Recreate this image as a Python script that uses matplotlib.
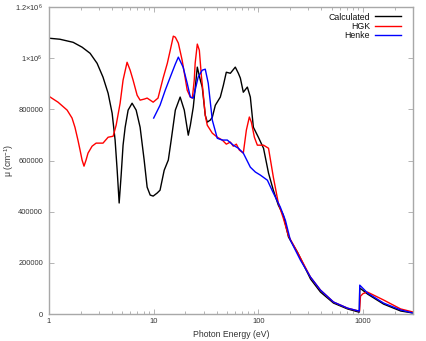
import matplotlib
matplotlib.use("Agg")
import matplotlib.pyplot as plt
from matplotlib.ticker import FixedLocator, LogLocator, NullFormatter

plt.rcParams['font.family'] = ['Liberation Sans', 'DejaVu Sans']
plt.rcParams['mathtext.fontset'] = 'custom'
plt.rcParams['mathtext.rm'] = 'Liberation Sans'
plt.rcParams['mathtext.it'] = 'Liberation Sans:italic'

# Calculated (eV, cm^-1)
calc_e = [1.0, 1.27, 1.70, 2.07, 2.47, 2.88, 3.28, 3.67, 4.01, 4.28, 4.48, 4.68, 4.89,
          5.10, 5.34, 5.70, 6.22, 6.80, 7.42, 8.11, 8.66, 9.26, 9.89, 10.8, 11.5, 12.6,
          13.8, 14.7, 16.1, 17.9, 19.6, 21.4, 22.4, 23.9, 26.1, 27.9, 29.1, 31.1, 32.5,
          34.7, 36.3, 38.8, 43.3, 46.3, 49.4, 54.0, 60.2, 64.4, 67.3, 71.8, 78.5, 83.8,
          89.6, 100, 112, 125, 139, 155, 173, 194, 236, 315, 392, 522, 711, 906, 922,
          930, 1105, 1570, 2285, 3000]
calc_mu = [1078e3, 1074e3, 1062e3, 1043e3, 1019e3, 980e3, 926e3, 863e3, 785e3, 680e3,
           562e3, 434e3, 543e3, 660e3, 730e3, 797e3, 824e3, 797e3, 730e3, 602e3, 496e3,
           465e3, 461e3, 473e3, 484e3, 562e3, 602e3, 680e3, 797e3, 848e3, 797e3, 699e3,
           738e3, 809e3, 965e3, 914e3, 887e3, 777e3, 750e3, 758e3, 769e3, 816e3, 848e3,
           894e3, 945e3, 941e3, 965e3, 941e3, 922e3, 867e3, 887e3, 848e3, 730e3, 691e3,
           648e3, 551e3, 484e3, 426e3, 387e3, 301e3, 242e3, 137e3, 86e3, 43e3, 20e3, 8e3,
           8e3, 102e3, 78e3, 39e3, 12e3, 4e3]

# HGK
hgk_e = [1.0, 1.22, 1.49, 1.66, 1.77, 1.89, 1.98, 2.07, 2.16, 2.26, 2.36, 2.58, 2.82,
         3.28, 3.67, 4.10, 4.38, 4.78, 5.10, 5.57, 5.96, 6.36, 6.95, 7.42, 8.11, 8.66,
         9.26, 9.89, 11.0, 12.3, 13.5, 14.4, 15.4, 16.1, 17.2, 18.7, 20.0, 20.9, 22.4,
         23.4, 24.4, 24.9, 26.1, 27.3, 28.5, 29.7, 31.1, 32.5, 36.3, 40.5, 45.2, 49.4,
         54.0, 57.6, 61.6, 65.8, 71.8, 76.8, 82.0, 85.7, 91.6, 97.8, 112, 125, 139, 155,
         173, 194, 236, 314, 391, 522, 711, 906, 925, 945, 1000, 1100, 1570, 2285, 3000]
hgk_mu = [851e3, 828e3, 797e3, 766e3, 730e3, 680e3, 641e3, 602e3, 578e3, 602e3, 629e3,
          656e3, 668e3, 668e3, 691e3, 695e3, 738e3, 824e3, 914e3, 984e3, 953e3, 914e3,
          855e3, 836e3, 840e3, 844e3, 836e3, 828e3, 844e3, 922e3, 980e3, 1031e3, 1086e3,
          1082e3, 1059e3, 992e3, 922e3, 875e3, 848e3, 844e3, 914e3, 980e3, 1055e3, 1031e3,
          934e3, 863e3, 777e3, 738e3, 707e3, 691e3, 680e3, 664e3, 672e3, 656e3, 664e3,
          641e3, 629e3, 719e3, 770e3, 750e3, 691e3, 660e3, 660e3, 648e3, 535e3, 434e3,
          375e3, 305e3, 242e3, 145e3, 94e3, 47e3, 23e3, 12e3, 12e3, 70e3, 80e3, 86e3,
          55e3, 20e3, 8e3]

# Henke
henke_e = [10.0, 11.5, 12.9, 14.4, 16.1, 17.2, 19.1, 20.9, 22.4, 23.9, 26.6, 29.1, 31.1,
           33.2, 36.3, 40.5, 45.2, 50.5, 57.6, 64.4, 71.8, 83.8, 93.6, 104.5, 122, 139,
           162, 181, 202, 252, 314, 391, 522, 711, 906, 920, 930, 1105, 1570, 2285, 3000]
henke_mu = [766e3, 816e3, 875e3, 926e3, 977e3, 1004e3, 965e3, 902e3, 848e3, 844e3, 926e3,
            953e3, 957e3, 902e3, 758e3, 687e3, 680e3, 680e3, 660e3, 648e3, 629e3, 574e3,
            555e3, 543e3, 523e3, 473e3, 418e3, 367e3, 289e3, 211e3, 145e3, 94e3, 47e3,
            23e3, 12e3, 12e3, 113e3, 82e3, 43e3, 16e3, 4e3]

y_ticks = [0, 200000, 400000, 600000, 800000, 1000000, 1200000]
y_labels = ['0', '200000', '400000', '600000', '800000',
            r'$\mathregular{1{\times}10^{6}}$', r'$\mathregular{1.2{\times}10^{6}}$']
x_ticks = [1, 10, 100, 1000]
x_labels = ['1', '10', '100', '1000']

fig = plt.figure(figsize=(4.26, 3.41), dpi=100)
ax = fig.add_axes([0.115, 0.079, 0.8545, 0.9005])

ax.plot(calc_e, calc_mu, color='black', lw=1.0, label='Calculated')
ax.plot(hgk_e, hgk_mu, color='#ff0000', lw=1.0, label='HGK')
ax.plot(henke_e, henke_mu, color='#0000ff', lw=1.0, label='Henke')

ax.set_xscale('log')
ax.set_xlim(1, 3000)
ax.set_ylim(0, 1.2e6)

ax.xaxis.set_major_locator(FixedLocator(x_ticks))
ax.set_xticklabels(x_labels)
ax.xaxis.set_minor_locator(LogLocator(base=10, subs=range(2, 10)))
ax.xaxis.set_minor_formatter(NullFormatter())
ax.set_yticks(y_ticks)
ax.set_yticklabels(y_labels)

for s in ax.spines.values():
    s.set_color('#a8a8a8')
    s.set_linewidth(1.0)

ax.tick_params(which='both', direction='in', top=True, right=True, colors='#a8a8a8',
               labelcolor='#333333', labelsize=5.4)
ax.tick_params(axis='y', which='major', length=3.5, width=0.6, pad=4.3)
ax.tick_params(axis='x', which='major', length=3.5, width=0.6, pad=3.0)
ax.tick_params(which='minor', length=2, width=0.6)

ax.set_xlabel('Photon Energy (eV)', fontsize=6.2, color='#333333', labelpad=3.5)
ax.set_ylabel(r'$\mathregular{\mu\ (cm^{-1})}$', fontsize=6.2, color='#333333')
ax.yaxis.set_label_coords(-0.092, 0.5)

leg = ax.legend(loc='upper right', frameon=False, fontsize=6.3, markerfirst=False,
                handlelength=3.0, handletextpad=0.6, labelspacing=0.05,
                borderaxespad=0.3, bbox_to_anchor=(0.985, 1.002))
for t in leg.get_texts():
    t.set_color('#111111')

fig.savefig('out.png', dpi=100)
